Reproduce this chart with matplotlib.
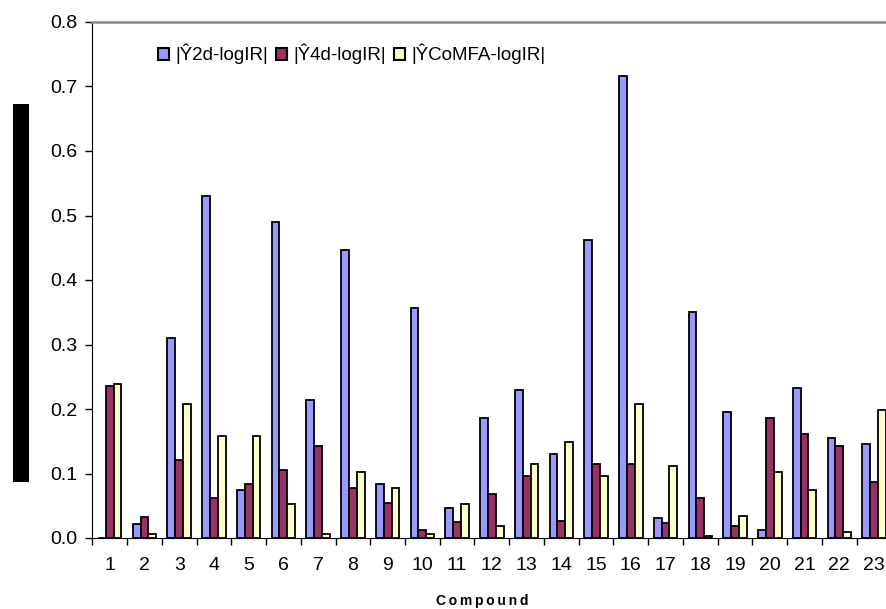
import matplotlib

matplotlib.use("Agg")

import matplotlib.pyplot as plt
import numpy as np
from matplotlib.patches import Patch, Rectangle
from matplotlib.ticker import FixedLocator, FormatStrFormatter

plt.rcParams["font.family"] = ["Liberation Sans", "DejaVu Sans"]

compounds = [str(i) for i in range(1, 24)]
err_2d = [0.0, 0.021, 0.310, 0.531, 0.074, 0.490, 0.214, 0.446, 0.083, 0.357,
          0.046, 0.186, 0.230, 0.130, 0.462, 0.717, 0.031, 0.350, 0.195, 0.012,
          0.232, 0.155, 0.146]
err_4d = [0.236, 0.033, 0.121, 0.062, 0.083, 0.105, 0.143, 0.078, 0.055, 0.012,
          0.025, 0.068, 0.096, 0.027, 0.115, 0.115, 0.024, 0.062, 0.018, 0.186,
          0.161, 0.143, 0.087]
err_comfa = [0.238, 0.006, 0.208, 0.158, 0.158, 0.053, 0.006, 0.102, 0.077, 0.006,
             0.053, 0.018, 0.115, 0.149, 0.096, 0.208, 0.111, 0.003, 0.034, 0.102,
             0.074, 0.009, 0.199]
series_labels = ["|Ŷ2d-logIR|", "|Ŷ4d-logIR|", "|ŶCoMFA-logIR|"]
colors = ["#9999FF", "#993366", "#FFFFCC"]

W, H = 887, 609
fig = plt.figure(figsize=(W / 100, H / 100), dpi=100)
ax = fig.add_axes([92.3 / W, 1 - 538 / H, (891.4 - 92.3) / W, (538 - 22) / H])

x = np.arange(1, len(compounds) + 1)
width = 0.225
for i, (vals, col) in enumerate(zip([err_2d, err_4d, err_comfa], colors)):
    ax.bar(x + (i - 1) * width, vals, width, color=col, edgecolor="black",
           linewidth=1.3, zorder=3)

ax.set_xlim(0.5, len(compounds) + 0.5)
ax.set_ylim(0, 0.8)
ax.set_yticks(np.arange(0, 0.81, 0.1))
ax.yaxis.set_major_formatter(FormatStrFormatter("%.1f"))
ax.set_xticks(x)
ax.set_xticklabels(compounds)
ax.xaxis.set_minor_locator(FixedLocator(np.arange(0.5, len(compounds) + 1, 1)))
ax.tick_params(axis="x", which="major", length=0, pad=14, labelsize=14)
ax.tick_params(axis="x", which="minor", length=5, width=1, direction="out")
ax.tick_params(axis="y", length=5, width=1, direction="out", pad=6, labelsize=14)

ax.spines["right"].set_visible(False)
ax.spines["top"].set_color("#888888")
ax.spines["top"].set_linewidth(1.8)
ax.spines["left"].set_color("black")
ax.spines["bottom"].set_color("black")

fig.text(482 / W, 1 - 601 / H, "C\u2009o\u2009m\u2009p\u2009o\u2009u\u2009n\u2009d",
         ha="center", va="center", fontsize=10, fontweight="bold")

handles = [Patch(facecolor=c, edgecolor="black", linewidth=1.5) for c in colors]
fig.legend(handles, series_labels, loc="center left",
           bbox_to_anchor=(158 / W, 1 - 54 / H), ncol=3, frameon=False,
           fontsize=13.5, handlelength=0.6, handleheight=0.6,
           handletextpad=0.32, columnspacing=0.43, borderaxespad=0, borderpad=0)

# black bar at the left edge
fig.patches.append(Rectangle((13 / W, 1 - 482 / H), 16 / W, 378 / H,
                             transform=fig.transFigure, facecolor="black",
                             edgecolor="none"))

fig.savefig("out.png", dpi=100)
plt.close(fig)
